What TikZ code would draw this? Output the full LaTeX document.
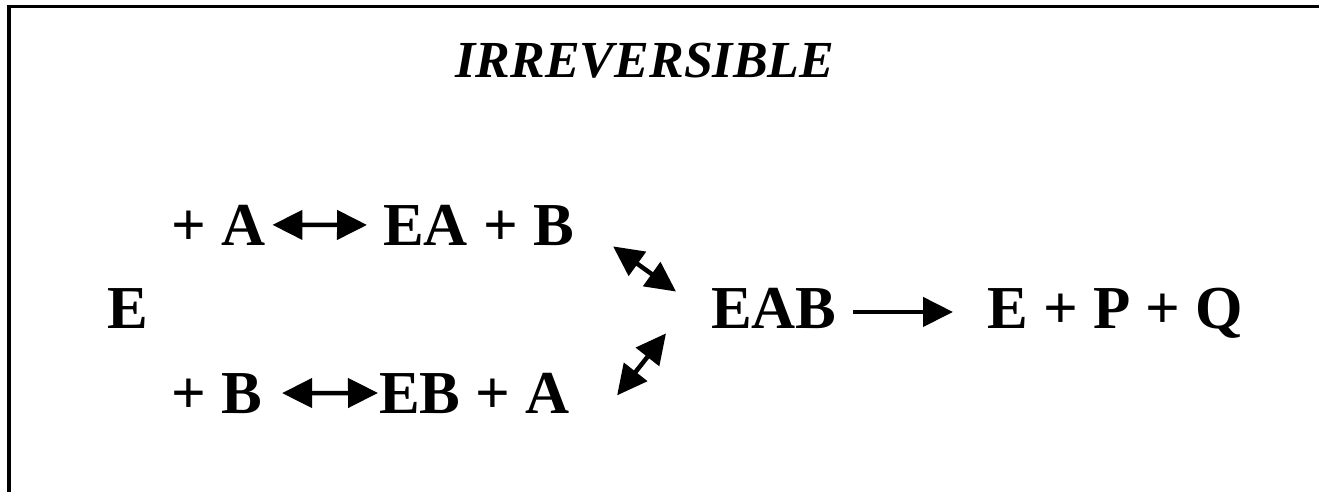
\documentclass[tikz,border=0pt]{standalone}
\usepackage{fontspec}
\setmainfont{Liberation Serif}
\usetikzlibrary{arrows.meta,calc}
\tikzset{
  chem/.style={inner sep=0pt,anchor=base west,font=\fontsize{61}{70}\selectfont\bfseries},
  fwd/.style={line width=4.5pt,-{Triangle[length=30pt,width=29pt]}},
  eqm/.style={line width=4.5pt,{Triangle[length=30pt,width=29pt]}-{Triangle[length=30pt,width=29pt]}}
}
\begin{document}
\begin{tikzpicture}[x=1pt,y=-1pt]
\useasboundingbox (0,0) rectangle (1319,491);
\begin{scope}
\clip (0,0) rectangle (1319,491);
\draw[line width=3.5pt] (9,6.5) rectangle (1360,530);
\end{scope}
\node[anchor=base,inner sep=0pt,font=\fontsize{52}{60}\selectfont\bfseries\itshape] (title) at (645,77) {IRREVERSIBLE};

\node[chem] (e) at (107,328) {E};
\node[chem] (pa) at (171,245) {+ A};
\node[chem] (ea) at (383,245) {EA + B};
\node[chem] (pb) at (171,413) {+ B};
\node[chem] (eb) at (379,413) {EB + A};
\node[chem] (eab) at (711,328) {EAB};
\node[chem] (epq) at (987,328) {E + P + Q};

\draw[eqm,shorten <=7pt,shorten >=16pt] (pa.east) -- (ea.west);
\draw[eqm,shorten <=20pt,shorten >=1pt] (pb.east) -- (eb.west);
\draw[eqm] ($(ea.south east)+(39,1)$) -- ($(eab.north west)+(-35,4)$);
\draw[eqm] ($(eb.south east)+(47,-18)$) -- ($(eab.south west)+(-45,5)$);
\draw[fwd,shorten <=16pt,shorten >=34pt] ([yshift=-4pt]eab.east) -- ([yshift=-4pt]eab.east -| epq.west);
\end{tikzpicture}
\end{document}
